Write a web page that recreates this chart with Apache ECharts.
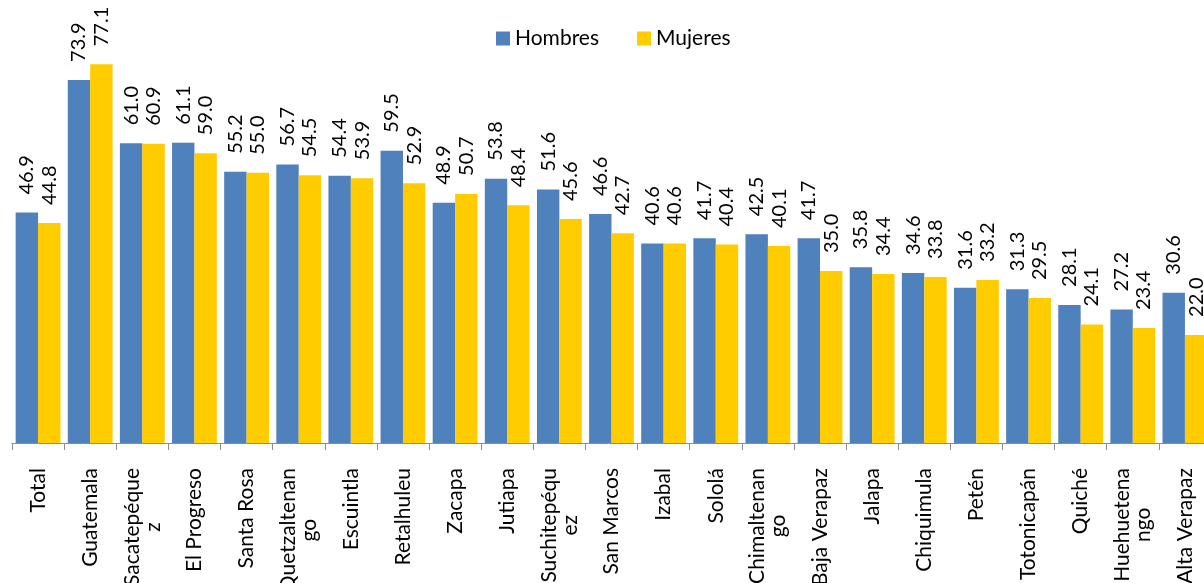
<!DOCTYPE html>
<html>
<head>
<meta charset="utf-8">
<script src="https://cdn.jsdelivr.net/npm/echarts@6/dist/echarts.min.js"></script>
<style>
  html, body { margin: 0; padding: 0; background: #fff; }
  #main { width: 1204px; height: 583px; }
</style>
</head>
<body>
<div id="main"></div>
<script>
// departamentos (saltos de linea como en el original)
var categories = ['Total', 'Guatemala', 'Sacatepéque\nz', 'El Progreso', 'Santa Rosa', 'Quetzaltenan\ngo',
  'Escuintla', 'Retalhuleu', 'Zacapa', 'Jutiapa', 'Suchitepéqu\nez', 'San Marcos', 'Izabal', 'Sololá',
  'Chimaltenan\ngo', 'Baja Verapaz', 'Jalapa', 'Chiquimula', 'Petén', 'Totonicapán', 'Quiché',
  'Huehuetena\nngo', 'Alta Verapaz']
var hombres = [46.9, 73.9, 61.0, 61.1, 55.2, 56.7, 54.4, 59.5, 48.9, 53.8, 51.6, 46.6, 40.6, 41.7,
  42.5, 41.7, 35.8, 34.6, 31.6, 31.3, 28.1, 27.2, 30.6]
var mujeres = [44.8, 77.1, 60.9, 59.0, 55.0, 54.5, 53.9, 52.9, 50.7, 48.4, 45.6, 42.7, 40.6, 40.4,
  40.1, 35.0, 34.4, 33.8, 33.2, 29.5, 24.1, 23.4, 22.0]

var FONT = 'Lato, "Open Sans", sans-serif'

var chart = echarts.init(document.getElementById('main'))

function barLabel() {
  return {
    show: true,
    position: 'top',
    rotate: 90,
    align: 'left',
    verticalAlign: 'middle',
    distance: 18,
    fontFamily: FONT,
    fontSize: 20,
    color: '#000',
    formatter: function(p) { return p.value.toFixed(1) }
  }
}

var option = {
  animation: false,
  legend: {
    top: 23,
    left: 491,
    itemWidth: 14,
    itemHeight: 14,
    itemGap: 38,
    icon: 'rect',
    textStyle: { fontFamily: FONT, fontSize: 21, color: '#000' },
    data: ['Hombres', 'Mujeres']
  },
  grid: {
    left: 12,
    width: 1199,
    top: 50,
    bottom: 140,
    outerBoundsMode: 'none',
    containLabel: false
  },
  xAxis: {
    type: 'category',
    data: categories,
    axisLine: { lineStyle: { color: '#8c8c8c', width: 1 } },
    axisTick: { show: true, length: 7, lineStyle: { color: '#8c8c8c' } },
    axisLabel: {
      interval: 0,
      rotate: 90,
      margin: 25,
      color: '#000',
      fontFamily: FONT,
      fontSize: 21,
      formatter: function(v) {
        return v.split('\n').map(function(s) { return '{c|' + s + '}' }).join('\n')
      },
      rich: {
        c: { align: 'center', fontFamily: FONT, fontSize: 21, color: '#000' }
      }
    }
  },
  yAxis: {
    type: 'value',
    min: 0,
    max: 80,
    show: false
  },
  series: [
    {
      name: 'Hombres',
      type: 'bar',
      data: hombres,
      barGap: '0%',
      barCategoryGap: '14%',
      itemStyle: { color: '#4f81bd' },
      label: barLabel()
    },
    {
      name: 'Mujeres',
      type: 'bar',
      data: mujeres,
      itemStyle: { color: '#ffcc00' },
      label: barLabel()
    }
  ]
}

chart.setOption(option)
</script>
</body>
</html>
